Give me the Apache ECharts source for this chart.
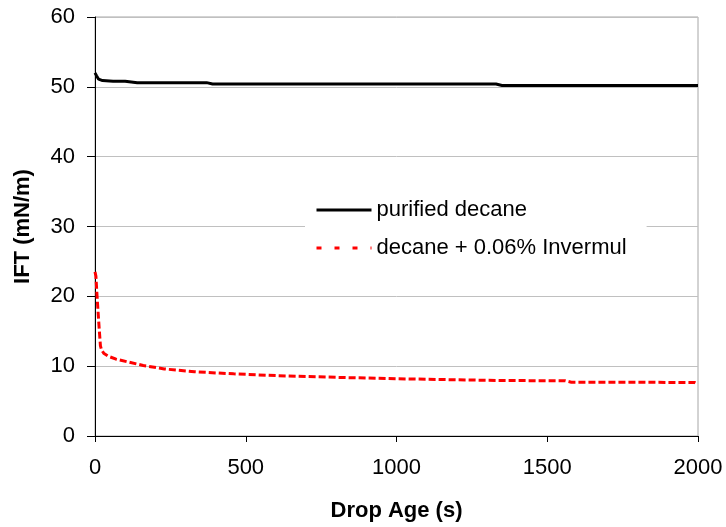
<!DOCTYPE html>
<html>
<head>
<meta charset="utf-8">
<script src="https://cdn.jsdelivr.net/npm/echarts@6/dist/echarts.min.js"></script>
<style>html,body{margin:0;padding:0;background:#fff}#c{width:726px;height:527px}</style>
</head>
<body>
<div id="c"></div>
<script>
const seriesNames = ['purified decane', 'decane + 0.06% Invermul'];
const pureT = [0, 5, 12, 25, 60, 100, 120, 140, 370, 390, 1330, 1350, 2000];
const pureV = [52.0, 51.6, 51.1, 50.9, 50.8, 50.8, 50.7, 50.6, 50.6, 50.4, 50.4, 50.2, 50.2];
const invT = [0, 3, 6, 10, 14, 18, 22, 30, 45, 70, 110, 160, 230, 330, 460, 600, 800, 1000, 1200, 1340, 1560, 1580, 1800, 1990, 2000];
const invV = [23.5, 22.9, 20.6, 17.9, 15.3, 12.9, 12.3, 11.8, 11.4, 11.0, 10.6, 10.1, 9.6, 9.2, 8.9, 8.65, 8.4, 8.2, 8.05, 7.95, 7.9, 7.7, 7.7, 7.65, 7.45];
const xTicks = [0, 500, 1000, 1500, 2000];
const yTicks = [0, 10, 20, 30, 40, 50, 60];

const zip = (a, b) => a.map((v, i) => [v, b[i]]);
const font = 'Liberation Sans, Arial, sans-serif';
const chart = echarts.init(document.getElementById('c'), null, {renderer: 'canvas'});
chart.setOption({
  animation: false,
  backgroundColor: '#fff',
  grid: {left: 95, right: 28, top: 17, bottom: 90, show: true, borderColor: '#a6a6a6', borderWidth: 1},
  xAxis: {
    type: 'value', min: xTicks[0], max: xTicks[xTicks.length - 1], interval: 500,
    name: 'Drop Age (s)', nameLocation: 'middle', nameGap: 64,
    nameTextStyle: {fontFamily: font, fontSize: 22, fontWeight: 'bold', color: '#000'},
    axisLine: {lineStyle: {color: '#000', width: 1}},
    axisTick: {show: true, inside: false, length: 6, lineStyle: {color: '#000'}},
    axisLabel: {fontFamily: font, fontSize: 22, color: '#000', margin: 21, formatter: v => String(v)},
    splitLine: {show: false}
  },
  yAxis: {
    type: 'value', min: yTicks[0], max: yTicks[yTicks.length - 1], interval: 10,
    name: 'IFT (mN/m)', nameLocation: 'middle', nameGap: 61, nameRotate: 90,
    nameTextStyle: {fontFamily: font, fontSize: 22, fontWeight: 'bold', color: '#000'},
    axisLine: {show: true, lineStyle: {color: '#000', width: 1}},
    axisTick: {show: true, inside: false, length: 8, lineStyle: {color: '#000'}},
    axisLabel: {fontFamily: font, fontSize: 22, color: '#000', margin: 20, formatter: v => String(v)},
    splitLine: {show: true, lineStyle: {color: '#c0c0c0', width: 1}}
  },
  legend: {
    show: true,
    orient: 'vertical', left: 305, top: 195,
    backgroundColor: '#fff', padding: [4, 20, 4, 10],
    itemWidth: 55, itemHeight: 22, itemGap: 16,
    textStyle: {fontFamily: font, fontSize: 22, color: '#000'},
    data: [
      {name: seriesNames[0], itemStyle: {opacity: 0}, lineStyle: {width: 3, color: '#000'}},
      {name: seriesNames[1], itemStyle: {opacity: 0}, lineStyle: {width: 3, color: '#ff0000', type: [5, 13]}}
    ]
  },
  series: [
    {name: seriesNames[0], type: 'line', data: zip(pureT, pureV), showSymbol: false, symbol: 'none',
     lineStyle: {color: '#000', width: 3}, itemStyle: {color: '#000'}},
    {name: seriesNames[1], type: 'line', data: zip(invT, invV), showSymbol: false, symbol: 'none',
     lineStyle: {color: '#ff0000', width: 3, type: [7, 3]}, itemStyle: {color: '#ff0000'}}
  ]
});
</script>
</body>
</html>
